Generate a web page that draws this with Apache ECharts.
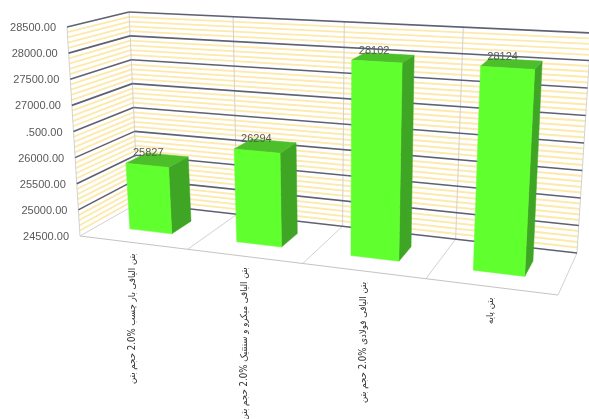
<!DOCTYPE html>
<html>
<head>
<meta charset="utf-8">
<style>html,body{margin:0;padding:0;background:#fff}#c{width:589px;height:419px}</style>
<script src="https://cdn.jsdelivr.net/npm/echarts@6/dist/echarts.min.js"></script>
</head>
<body>
<div id="c"></div>
<script>
const categories = [
  'بتن الیافی بار چسب %2.0 حجم بتن',
  'بتن الیافی میکرو و سنتتیک %2.0 حجم بتن',
  'بتن الیافی فولادی %2.0 حجم بتن',
  'بتن پایه'
];
const strengths = [25827, 26294, 28102, 28124];
const tickValues = [24500, 25000, 25500, 26000, 26500, 27000, 27500, 28000, 28500];
const tickLabels = ['24500.00', '25000.00', '25500.00', '26000.00', '.500.00', '27000.00', '27500.00', '28000.00', '28500.00'];
const minorStep = 100;

// Scene: unit box (u along categories, v along values, w front to back)
const BOX = {
  fbl: [80, 236], ftl: [67, 27], bbl: [138, 203], btl: [129, 12],
  fbr: [558, 295], ftr: [575, 54], bbr: [577, 253], btr: [591, 33]
};
const PERSP = 1.146;
const BAR_W0 = 0.33, BAR_W1 = 0.70, BAR_FRACTION = 0.4, BAR_TOP_DROP = 0.012, BAR_LEAN = -2.5;
const lerp = (a, b, t) => [a[0] + (b[0] - a[0]) * t, a[1] + (b[1] - a[1]) * t];
function project(u, v, w) {
  const t = u / (u + (1 - u) * PERSP);
  const fb = lerp(BOX.fbl, BOX.fbr, t), ft = lerp(BOX.ftl, BOX.ftr, t);
  const bb = lerp(BOX.bbl, BOX.bbr, t), bt = lerp(BOX.btl, BOX.btr, t);
  return lerp(lerp(fb, ft, v), lerp(bb, bt, v), w);
}
const W = 589, H = 419;
// u, v from the library's own scales (grid covers the whole canvas)
const toUV = p => [p[0] / W, (H - p[1]) / H];
const FONT = '11px "Liberation Sans", Arial, sans-serif';
const MAJOR = '#5d6172', MINOR = '#fce9ab', EDGE = '#d2d2d2';
const line = (a, b, stroke, lineWidth) => ({
  type: 'line', silent: true,
  shape: { x1: a[0], y1: a[1], x2: b[0], y2: b[1] },
  style: { stroke, lineWidth }
});
const poly = (points, fill) => ({
  type: 'polygon', silent: true, shape: { points },
  style: { fill, stroke: fill, lineWidth: 0.5 }
});

function renderWalls(params, api) {
  const kids = [];
  const vOf = val => toUV(api.coord([0, val]))[1];
  const lo = tickValues[0], hi = tickValues[tickValues.length - 1];
  const sideLine = (val, stroke, lw) => {
    const v = vOf(val);
    kids.push(line(project(0, v, 0), project(0, v, 1), stroke, lw));
  };
  const backLine = (val, stroke, lw) => {
    const v = vOf(val);
    kids.push(line(project(0, v, 1), project(1, v, 1), stroke, lw));
  };
  for (let val = lo; val < hi; val += minorStep) {
    if ((val - lo) % (tickValues[1] - lo)) {
      sideLine(val, MINOR, 1.8);
      backLine(val, MINOR, 1.8);
    }
  }
  const v0 = vOf(lo), v1 = vOf(hi);
  // vertical wall edges and category dividers
  kids.push(line(project(0, v0, 0), project(0, v1, 0), EDGE, 1));
  kids.push(line(project(0, v0, 1), project(0, v1, 1), EDGE, 1));
  kids.push(line(project(1, v0, 1), project(1, v1, 1), EDGE, 1));
  categories.forEach((c, i) => {
    if (!i) return;
    const u = toUV(api.coord([i, lo]))[0] - api.size([1, 0])[0] / W / 2;
    kids.push(line(project(u, v0, 1), project(u, v1, 1), EDGE, 1));
    kids.push(line(project(u, v0, 0), project(u, v0, 1), EDGE, 1));
  });
  // floor edges
  kids.push(line(project(0, v0, 0), project(1, v0, 0), '#c4c4c4', 1));
  kids.push(line(project(1, v0, 0), project(1, v0, 1), EDGE, 1));
  kids.push(line(project(0, v0, 0), project(0, v0, 1), EDGE, 1));
  // major gridlines; the lowest one runs on the back wall only
  tickValues.forEach(val => {
    if (val !== lo) sideLine(val, MAJOR, 1.6);
    backLine(val, MAJOR, 1.6);
  });
  return { type: 'group', children: kids };
}

function renderAxisLabels(params, api) {
  const v = toUV(api.coord([0, api.value(1)]))[1];
  const p = project(0, v, 0);
  return {
    type: 'text', silent: true,
    style: {
      x: p[0] - 11, y: p[1] + 1, text: tickLabels[params.dataIndex],
      fill: '#595959', font: FONT, textAlign: 'right', textVerticalAlign: 'middle'
    }
  };
}

function renderBar(params, api) {
  const c = toUV(api.coord([api.value(0), api.value(1)]));
  const base = toUV(api.coord([api.value(0), tickValues[0]]));
  const du = api.size([1, 0])[0] / W * BAR_FRACTION / 2;
  const u0 = c[0] - du, u1 = c[0] + du, v0 = base[1], v1 = c[1] - BAR_TOP_DROP;
  const P = (u, v, w) => {
    const p = project(u, v, w);
    return [p[0] + BAR_LEAN * v, p[1]];
  };
  const labelPos = P(c[0], v1, (BAR_W0 + BAR_W1) / 2);
  return {
    type: 'group',
    children: [
      poly([P(u1, v0, BAR_W0), P(u1, v0, BAR_W1), P(u1, v1, BAR_W1), P(u1, v1, BAR_W0)], '#3fa524'),
      poly([P(u0, v1, BAR_W0), P(u1, v1, BAR_W0), P(u1, v1, BAR_W1), P(u0, v1, BAR_W1)], '#4dbf2a'),
      poly([P(u0, v0, BAR_W0), P(u1, v0, BAR_W0), P(u1, v1, BAR_W0), P(u0, v1, BAR_W0)], '#60ff2e'),
      {
        type: 'text', silent: true,
        style: {
          x: labelPos[0] - 9, y: labelPos[1] - 7, text: String(api.value(1)),
          fill: '#595959', font: FONT, textAlign: 'center', textVerticalAlign: 'middle'
        }
      }
    ]
  };
}

function renderCategoryLabel(params, api) {
  const c = toUV(api.coord([api.value(0), tickValues[0]]));
  const p = project(c[0], c[1], 0);
  return {
    type: 'text', silent: true, x: p[0], y: p[1] + 11, rotation: Math.PI / 2,
    style: {
      x: 0, y: 0, text: '\u202B' + categories[params.dataIndex],
      fill: '#333333', font: '9.6px "DejaVu Sans Condensed", "DejaVu Sans", sans-serif',
      textAlign: 'right', textVerticalAlign: 'middle'
    }
  };
}

const chart = echarts.init(document.getElementById('c'), null, { renderer: 'canvas' });
chart.setOption({
  animation: false,
  backgroundColor: '#fff',
  grid: { left: 0, top: 0, width: W, height: H, containLabel: false },
  xAxis: { type: 'category', data: categories, show: false },
  yAxis: { type: 'value', min: 24500, max: 28500, interval: 500, show: false },
  series: [
    { type: 'custom', clip: false, renderItem: renderWalls, data: [[0, tickValues[0]]], z: 1 },
    { type: 'custom', clip: false, renderItem: renderBar, data: strengths.map((s, i) => [i, s]), z: 2 },
    { type: 'custom', clip: false, renderItem: renderAxisLabels, data: tickValues.map(t => [0, t]), z: 3 },
    { type: 'custom', clip: false, renderItem: renderCategoryLabel, data: categories.map((c, i) => [i, tickValues[0]]), z: 3 }
  ]
});
</script>
</body>
</html>
